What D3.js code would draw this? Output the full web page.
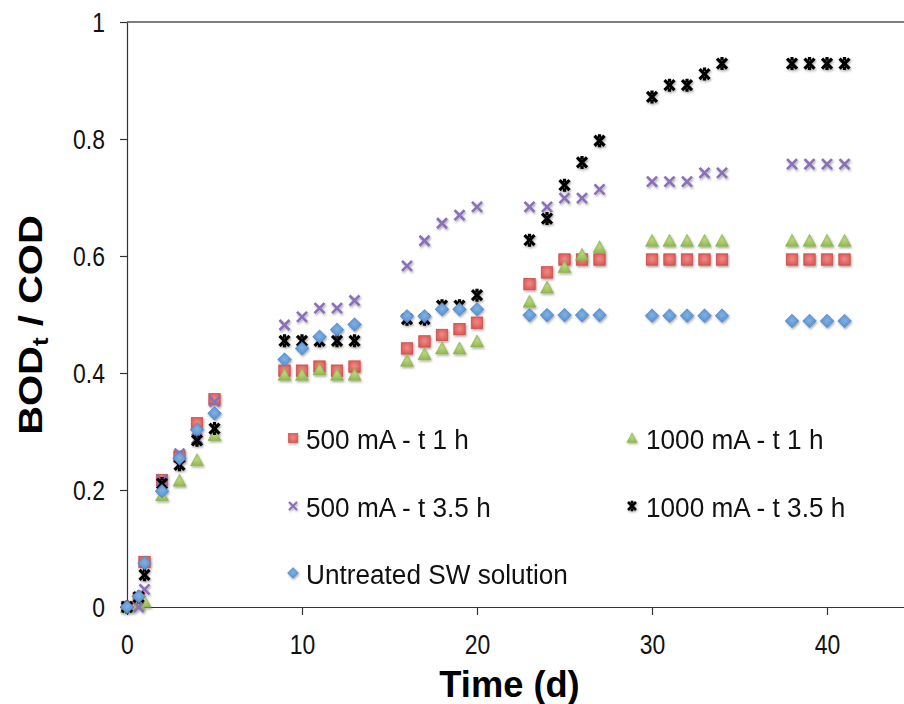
<!DOCTYPE html>
<html><head><meta charset="utf-8">
<script src="https://cdn.jsdelivr.net/npm/d3@7"></script>
<style>html,body{margin:0;padding:0;background:#fff;}svg{display:block;}text{font-family:"Liberation Sans",Arial,Helvetica,sans-serif;}</style>
</head><body><div id="chart"></div>
<script>
const time = [0, 0.67, 1, 2, 3, 4, 5, 9, 10, 11, 12, 13, 16, 17, 18, 19, 20, 23, 24, 25, 26, 27, 30, 31, 32, 33, 34, 38, 39, 40, 41];
const ma500_1h = [0, 0.015, 0.077, 0.217, 0.257, 0.314, 0.355, 0.404, 0.404, 0.411, 0.404, 0.411, 0.442, 0.454, 0.465, 0.475, 0.486, 0.552, 0.572, 0.594, 0.594, 0.594, 0.594, 0.594, 0.594, 0.594, 0.594, 0.594, 0.594, 0.594, 0.594];
const ma1000_1h = [0, 0.005, 0.009, 0.191, 0.216, 0.251, 0.294, 0.397, 0.397, 0.406, 0.397, 0.397, 0.421, 0.432, 0.442, 0.442, 0.454, 0.522, 0.546, 0.581, 0.602, 0.615, 0.626, 0.626, 0.626, 0.626, 0.626, 0.626, 0.626, 0.626, 0.626];
const ma500_35h = [0, 0.0, 0.030, 0.217, 0.262, 0.288, 0.351, 0.482, 0.496, 0.511, 0.511, 0.524, 0.583, 0.626, 0.656, 0.670, 0.684, 0.684, 0.684, 0.699, 0.699, 0.714, 0.727, 0.727, 0.727, 0.742, 0.742, 0.757, 0.757, 0.757, 0.757];
const ma1000_35h = [0, 0.017, 0.055, 0.211, 0.243, 0.285, 0.305, 0.455, 0.455, 0.455, 0.455, 0.455, 0.492, 0.492, 0.515, 0.515, 0.533, 0.627, 0.664, 0.721, 0.760, 0.797, 0.872, 0.892, 0.892, 0.911, 0.929, 0.929, 0.929, 0.929, 0.929];
const untreated = [0, 0.018, 0.075, 0.198, 0.254, 0.303, 0.331, 0.423, 0.442, 0.462, 0.474, 0.483, 0.497, 0.497, 0.509, 0.509, 0.509, 0.499, 0.499, 0.499, 0.499, 0.499, 0.498, 0.498, 0.498, 0.498, 0.498, 0.489, 0.489, 0.489, 0.489];
const seriesNames = ["500 mA - t 1 h", "1000 mA - t 1 h", "500 mA - t 3.5 h", "1000 mA - t 3.5 h", "Untreated SW solution"];
const xTicks = [0, 10, 20, 30, 40];
const yTicks = [0, 0.2, 0.4, 0.6, 0.8, 1];

const W = 904, H = 704;
const svg = d3.select("#chart").append("svg").attr("width", W).attr("height", H);
const defs = svg.append("defs");
const f = defs.append("filter").attr("id","sh").attr("x","-50%").attr("y","-50%").attr("width","200%").attr("height","200%");
f.append("feDropShadow").attr("dx",1).attr("dy",1.5).attr("stdDeviation",1).attr("flood-color","#000").attr("flood-opacity",0.35);
function grad(id, c1, c2){
  const g = defs.append("radialGradient").attr("id", id).attr("cx","50%").attr("cy","45%").attr("r","65%");
  g.append("stop").attr("offset","0%").attr("stop-color", c1);
  g.append("stop").attr("offset","100%").attr("stop-color", c2);
}
grad("gSq", "#f08a86", "#d9534f");
grad("gTr", "#b8d67e", "#8fb34a");
grad("gDi", "#7fb2e6", "#4a86c8");

const x = d3.scaleLinear().domain([0, 45]).range([127, 914.5]);
const y = d3.scaleLinear().domain([0, 1]).range([607, 22]);

svg.append("line").attr("x1", x(0)).attr("x2", W).attr("y1", y(1)).attr("y2", y(1)).attr("stroke","#555").attr("stroke-width",1.3);

const sx = 0.85;
const yAxis = svg.append("g").attr("transform", `translate(${x(0)},0)`)
  .call(d3.axisLeft(y).tickValues(yTicks).tickSize(7).tickSizeOuter(0).tickFormat(d => d3.format("")(+d.toFixed(1))));
const xAxis = svg.append("g").attr("transform", `translate(0,${y(0)})`)
  .call(d3.axisBottom(x).tickValues(xTicks).tickSize(8).tickSizeOuter(0));
[yAxis, xAxis].forEach(a => {
  a.select(".domain").attr("stroke","#333").attr("stroke-width",1.2);
  a.selectAll(".tick line").attr("stroke","#333").attr("stroke-width",1.2);
  a.selectAll(".tick text").attr("font-size", 27).attr("fill","#111").attr("font-family","Liberation Sans, Arial, sans-serif");
});
yAxis.selectAll(".tick text").attr("x", null).attr("dy", null)
  .attr("text-anchor","end").attr("dominant-baseline","central")
  .attr("transform", `translate(-22,0) scale(${sx},1)`);
xAxis.selectAll(".tick text").attr("y", null).attr("dy", null)
  .attr("dominant-baseline","central")
  .attr("transform", `translate(0,37) scale(${sx},1)`);

const M = svg.append("g").attr("filter","url(#sh)");
function draw(vals, fn){
  vals.forEach((v,i) => { const g = M.append("g").attr("transform", `translate(${x(time[i])},${y(v)})`); fn(g); });
}
function sq(g){ g.append("rect").attr("x",-5.7).attr("y",-5.7).attr("width",11.4).attr("height",11.4).attr("fill","url(#gSq)").attr("stroke","#c9504c").attr("stroke-width",0.8); }
function tr(g){ g.append("path").attr("d","M0,-6.5 L6.5,5.5 L-6.5,5.5 Z").attr("fill","url(#gTr)").attr("stroke","#8ab04a").attr("stroke-width",0.6).attr("stroke-linejoin","round"); }
function px(g){ g.append("path").attr("d","M-5,-5 L5,5 M-5,5 L5,-5").attr("stroke","#8a6fb8").attr("stroke-width",2.6).attr("stroke-linecap","butt"); }
function bx(g){ g.append("path").attr("d","M-5,-5 L5,5 M-5,5 L5,-5 M0,-6.5 L0,-3 M0,3 L0,6.5").attr("stroke","#000").attr("stroke-width",3.2); }
function di(g){ g.append("path").attr("d","M0,-6.8 L6.8,0 L0,6.8 L-6.8,0 Z").attr("fill","url(#gDi)").attr("stroke","#4a80c0").attr("stroke-width",0.6); }
draw(ma500_1h, sq);
draw(ma1000_1h, tr);
draw(ma500_35h, px);
draw(ma1000_35h, bx);
draw(untreated, di);

const legItems = [
  {name: seriesNames[0], fn: sq, mx: 293, my: 438, tx: 306},
  {name: seriesNames[1], fn: tr, mx: 632, my: 438, tx: 646},
  {name: seriesNames[2], fn: px, mx: 293, my: 506, tx: 306},
  {name: seriesNames[3], fn: bx, mx: 632, my: 506, tx: 646},
  {name: seriesNames[4], fn: di, mx: 293, my: 573, tx: 306}
];
legItems.forEach(it => {
  const g = svg.append("g").attr("transform", `translate(${it.mx},${it.my}) scale(0.8)`).attr("filter","url(#sh)");
  it.fn(g);
  svg.append("text").attr("transform", `translate(${it.tx},${it.my+2}) scale(0.97,1)`)
    .attr("dominant-baseline","central").attr("font-size", 27).attr("fill","#111").text(it.name);
});

svg.append("text").attr("transform", `translate(${(x(0)+W)/2 - 6},${684}) scale(0.98,1)`)
  .attr("text-anchor","middle").attr("dominant-baseline","central")
  .attr("font-size", 37).attr("font-weight","bold").attr("fill","#000").text("Time (d)");
const yt = svg.append("text").attr("transform", `translate(30,325) scale(${sx},1) rotate(-90)`)
  .attr("text-anchor","middle").attr("dominant-baseline","central")
  .attr("font-size", 40).attr("font-weight","bold").attr("fill","#000");
yt.append("tspan").text("BOD");
yt.append("tspan").attr("font-size", 26).attr("dy", 11).text("t");
yt.append("tspan").attr("dy", -11).text(" / COD");
</script></body></html>
